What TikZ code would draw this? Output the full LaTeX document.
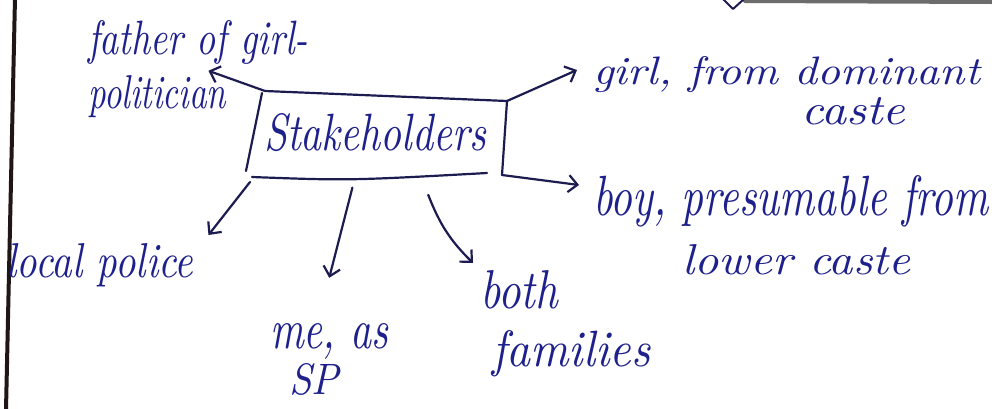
\documentclass[tikz,border=0pt]{standalone}
\usetikzlibrary{arrows.meta,calc}
\definecolor{ink}{RGB}{30,32,140}
\definecolor{pen}{RGB}{28,28,80}
\definecolor{margin}{RGB}{32,22,22}
% handwritten-style label: width, height above the baseline, text
\newcommand{\hw}[3]{\resizebox{#1pt}{#2pt}{\itshape #3}}

\begin{document}
\begin{tikzpicture}[x=1pt,y=-1pt,
  label/.style={text=ink, inner sep=0pt, anchor=base west},
  stroke/.style={draw=pen, line width=2.2pt, line cap=round, line join=round},
  arr/.style={stroke, -{Straight Barb[length=9pt,width=17pt]}}]

\useasboundingbox (0,0) rectangle (992,408);
\fill[white] (0,0) rectangle (992,408);

% page margin rule and the tail of the previous line
\draw[margin, line width=4pt] (15,-2) -- (6,410);
\draw[gray!85!black, line width=4pt, line cap=round] (745,1) -- (992,2);
\draw[pen, line width=2pt, line cap=round, line join=round] (723,-1) -- (733,9) -- (744,-1);

% labels
\node[label] (fa1) at (88,54)   {\hw{220}{34}{father of girl-}};
\node[label] (fa2) at (88,108)  {\hw{138}{33}{politician}};
\node[label] (st)  at (264,150) {\hw{222}{37}{Stakeholders}};
\node[label] (gi1) at (593,84)  {\hw{387}{28}{girl, from dominant}};
\node[label] (gi2) at (801,124) {\hw{104}{27}{caste}};
\node[label] (bo1) at (593,215) {\hw{395}{40}{boy, presumable from}};
\node[label] (bo2) at (682,274) {\hw{228}{30}{lower caste}};
\node[label] (lp)  at (6,277)   {\hw{187}{34}{local police}};
\node[label] (me1) at (270,348) {\hw{118}{25}{me, as}};
\node[label] (me2) at (289,394) {\hw{50}{31}{SP}};
\node[label] (bf1) at (480,308) {\hw{78}{38}{both}};
\node[label] (bf2) at (492,366) {\hw{158}{36}{families}};

% hand-drawn frame round the central label
\coordinate (tl) at ($(st.base west)+(-2,-57)$);
\coordinate (tr) at ($(st.base west)+(243,-49)$);
\coordinate (br) at ($(st.base west)+(238,25)$);
\coordinate (bl) at ($(st.base west)+(-18,21)$);
\draw[stroke] (tl) -- (bl);
\draw[stroke] (tr) -- (br);
\draw[stroke] ($(bl)+(6,6)$) .. controls ($(bl)!0.4!(br)+(0,8)$) .. ($(br)+(-15,-2)$);

% branches
\draw[arr] (tr) -- ($(tl)+(3,-2)$) -- ($(fa2.north east)+(-18,-4)$);
\draw[arr] (tr) -- ($(gi1.base west)+(-16,-14)$);
\draw[arr] (br) -- ($(bo1.base west)+(-14,-30)$);
\draw[arr] ($(bl)+(4,11)$) -- ($(lp.base east)+(15,-42)$);
\draw[arr] ($(bl)!0.4!(br)+(4,15)$) -- ($(me1.north)+(0,-45)$);
\draw[arr] ($(bl)!0.7!(br)+(3,21)$) to[bend right=12] ($(bf1.base west)+(-7,-45)$);
\end{tikzpicture}
\end{document}
